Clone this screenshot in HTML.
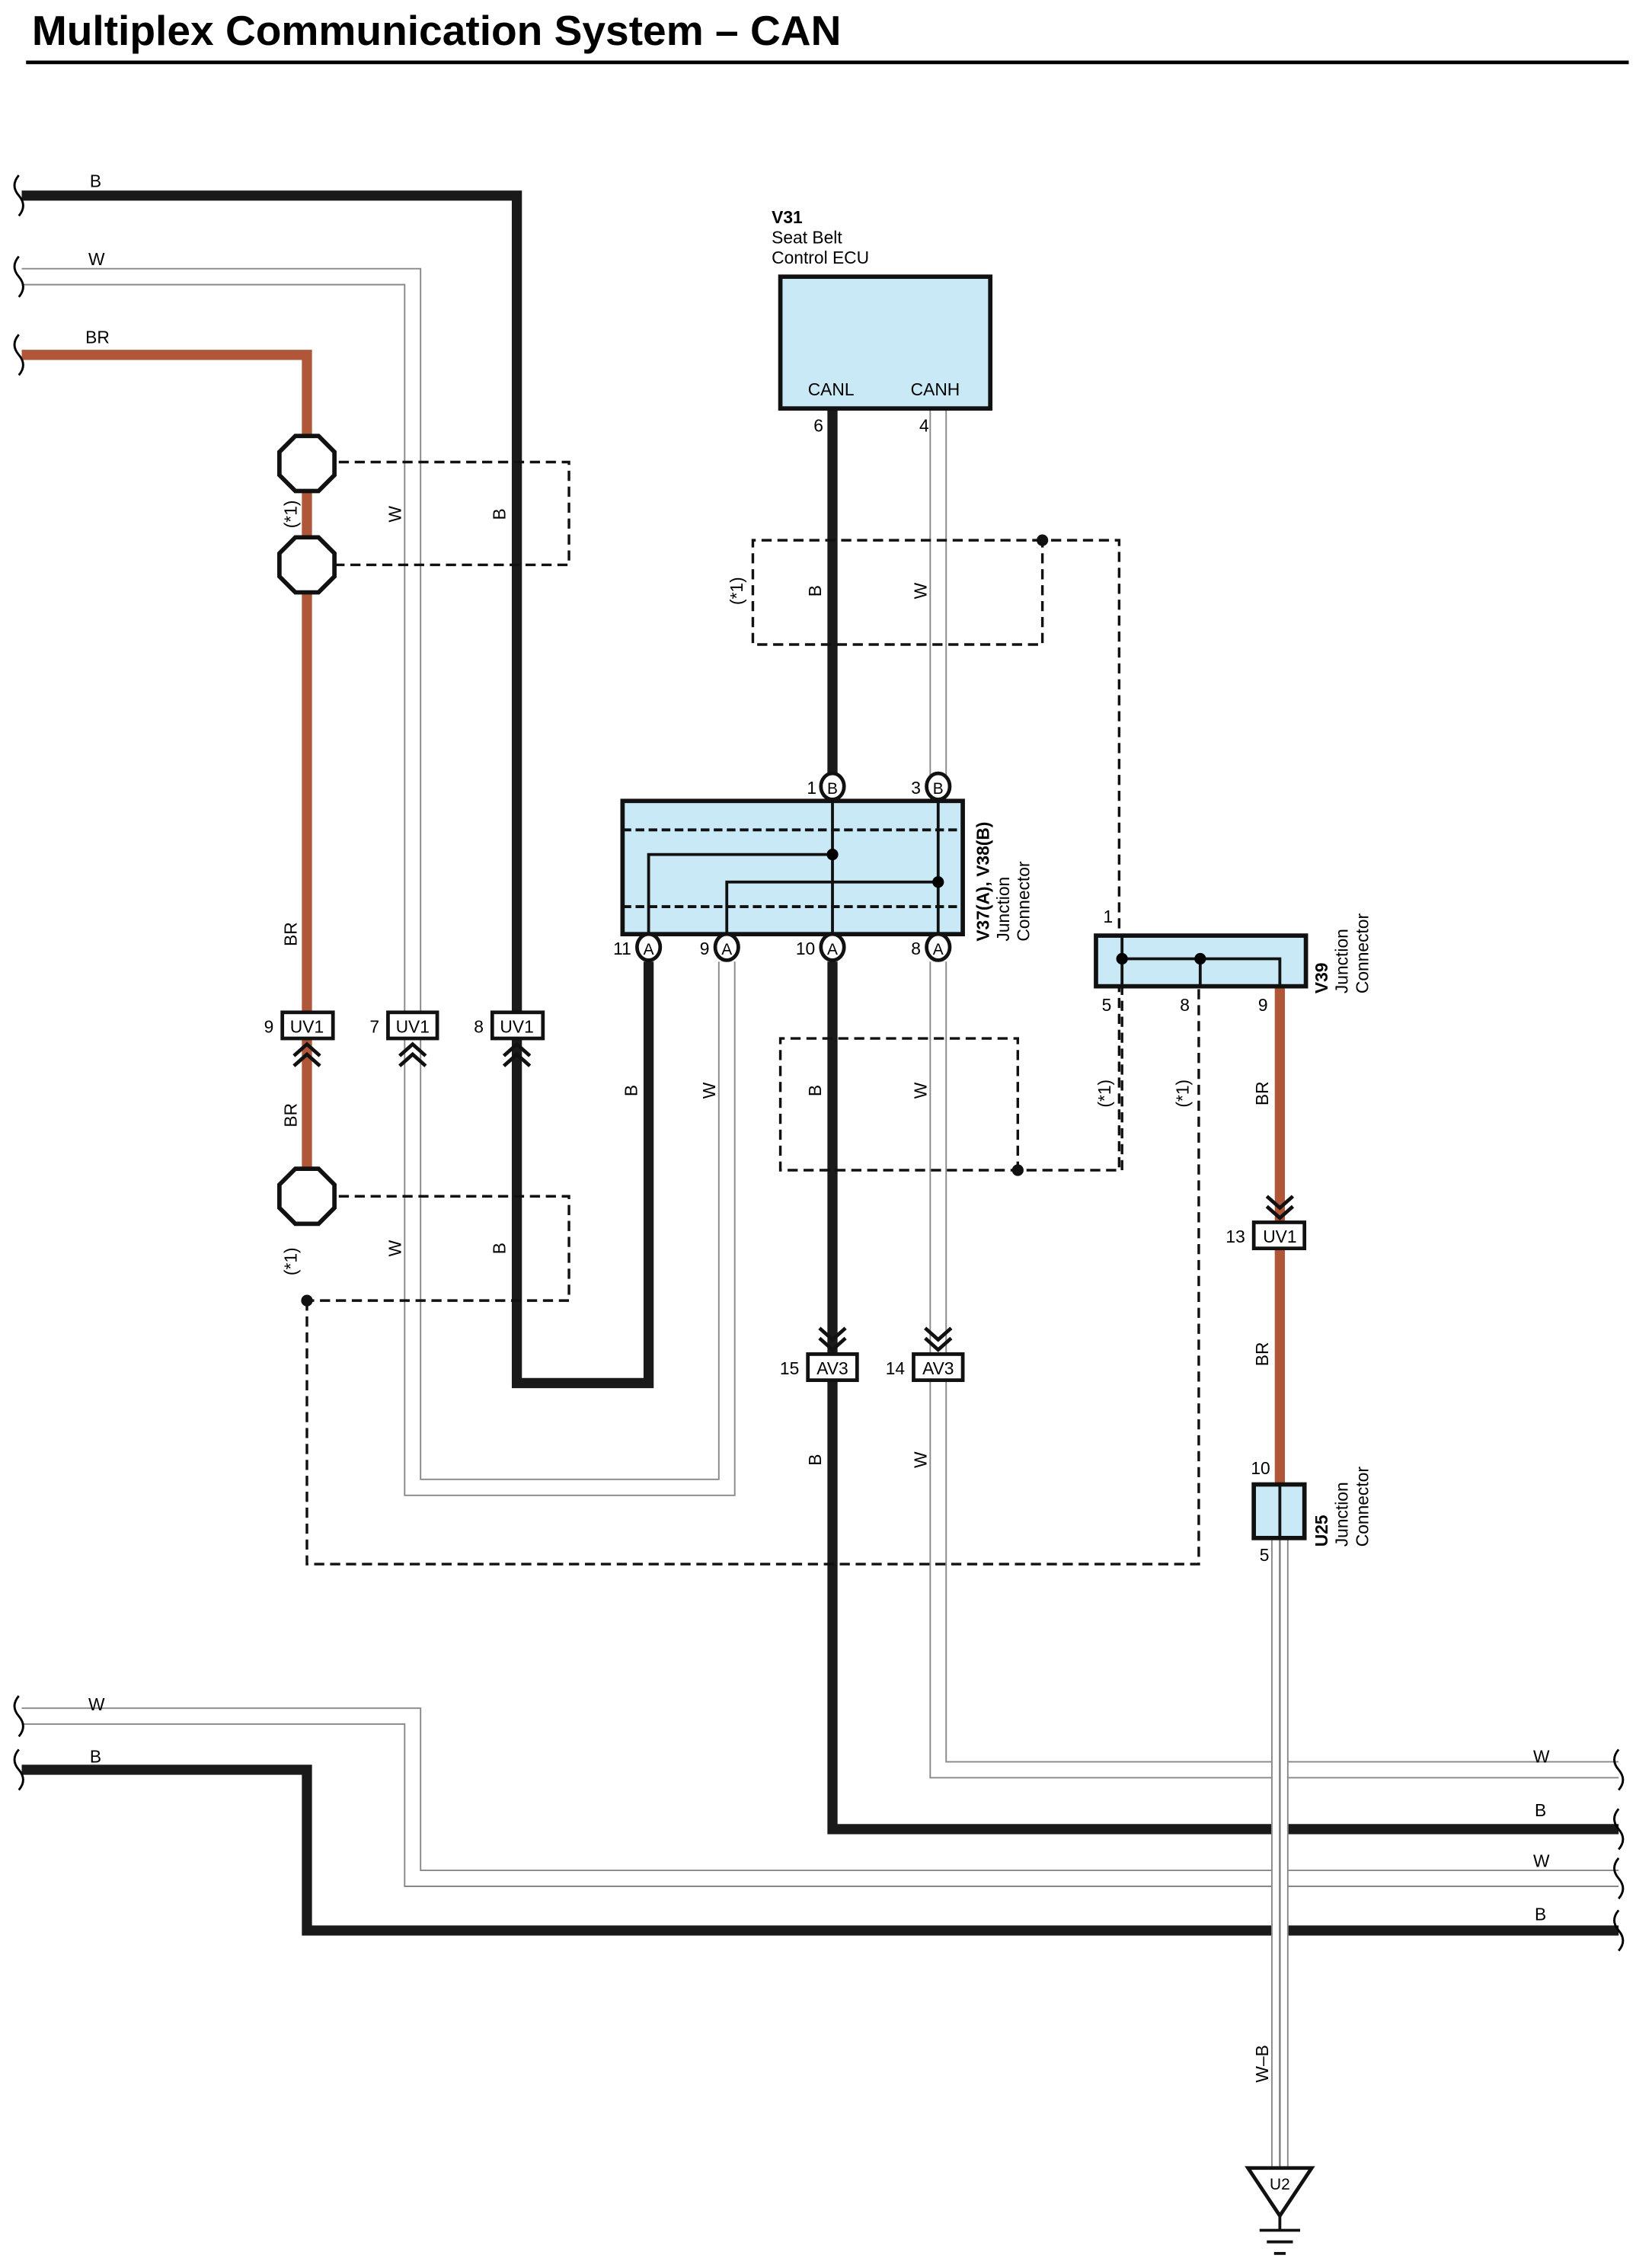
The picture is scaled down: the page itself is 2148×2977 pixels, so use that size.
<!DOCTYPE html>
<html><head><meta charset="utf-8"><style>html,body{margin:0;padding:0;background:#fff}svg{display:block}</style></head><body>
<svg width="2148" height="2977" viewBox="0 0 1130 1566" xmlns="http://www.w3.org/2000/svg" font-family="Liberation Sans, sans-serif">
<rect width="1130" height="1566" fill="#fff"/>
<text x="22" y="31" font-size="29" font-weight="bold">Multiplex Communication System – CAN</text>
<line x1="18" y1="43" x2="1125" y2="43" stroke="#000" stroke-width="2.5"/>
<defs>
<g id="wv"><path d="M0,-14 q-6,7 0,14 q6,7 0,14" fill="none" stroke="#000" stroke-width="1.5"/></g>
</defs>
<g fill="none" stroke-linejoin="miter">
<g stroke="#888" stroke-width="12">
<path d="M15,191 H285 V1027 H502 V664"/>
<path d="M648,282 V535"/>
<path d="M648,664 V935 M648,953 V1222 H1118"/>
<path d="M15,1185 H285 V1297 H1118"/>
</g>
<g stroke="#fff" stroke-width="10">
<path d="M15,191 H285 V1027 H502 V664"/>
<path d="M648,282 V535"/>
<path d="M648,664 V935 M648,953 V1222 H1118"/>
<path d="M15,1185 H285 V1297 H1118"/>
</g>
<g stroke="#1a1a1a" stroke-width="7">
<path d="M15,135 H357 V955 H448 V664"/>
<path d="M575,282 V535"/>
<path d="M575,664 V935 M575,953 V1263 H1118"/>
<path d="M15,1222 H212 V1333 H1118"/>
</g>
<g stroke="#b0573a" stroke-width="7">
<path d="M15,245 H212 V826"/>
<path d="M884,681 V1025"/>
</g>
<path d="M884,1062 V1497" stroke="#888" stroke-width="12"/>
<path d="M884,1062 V1497" stroke="#fff" stroke-width="10"/>
<line x1="884" y1="1062" x2="884" y2="1497" stroke="#777" stroke-width="1.2"/>
<g stroke="#111" stroke-width="1.8" stroke-dasharray="7,4">
<path d="M212,319 H393 V390 H212"/>
<path d="M212,826 H393 V898 H212"/>
<path d="M212,898 V1080 H828 V662"/>
<path d="M720,373 H520 V445 H720 V373 H773 V808 H539 V717 H703 V808"/>
<path d="M775,808 V646"/>
</g>
</g>
<g fill="#111"><circle cx="212" cy="898" r="4"/><circle cx="720" cy="373" r="4"/><circle cx="703" cy="808" r="4"/></g>
<g fill="#fff" stroke="#111" stroke-width="3">
<polygon points="204,301 220,301 231,312 231,328 220,339 204,339 193,328 193,312"/>
<polygon points="204,371 220,371 231,382 231,398 220,409 204,409 193,398 193,382"/>
<polygon points="204,807 220,807 231,818 231,834 220,845 204,845 193,834 193,818"/>
</g>
<g><use href="#wv" x="13" y="135"/><use href="#wv" x="13" y="191"/><use href="#wv" x="13" y="245"/><use href="#wv" x="13" y="1185"/><use href="#wv" x="13" y="1222"/>
<use href="#wv" x="1118" y="1222"/><use href="#wv" x="1118" y="1263"/><use href="#wv" x="1118" y="1297"/><use href="#wv" x="1118" y="1333"/></g>
<rect x="539" y="191" width="145" height="91" fill="#c9e9f7" stroke="#111" stroke-width="3"/>
<g font-size="12"><text x="558" y="273">CANL</text><text x="629" y="273">CANH</text>
<text x="533" y="154" font-weight="bold">V31</text><text x="533" y="168">Seat Belt</text><text x="533" y="182">Control ECU</text>
<text x="562" y="298">6</text><text x="635" y="298">4</text></g>
<rect x="430" y="553" width="235" height="92" fill="#c9e9f7" stroke="#111" stroke-width="3"/>
<g stroke="#111" stroke-width="2" fill="none">
<path d="M430,573 H665 M430,626 H665" stroke-dasharray="6,3"/>
<path d="M575,553 V645 M648,553 V645 M448,645 V590 H575 M502,645 V609 H648"/>
</g>
<circle cx="575" cy="590" r="4"/><circle cx="648" cy="609" r="4"/>
<g fill="#fff" stroke="#111" stroke-width="2.5">
<ellipse cx="575" cy="543" rx="8" ry="9"/><ellipse cx="648" cy="543" rx="8" ry="9"/>
<ellipse cx="448" cy="654" rx="8" ry="9"/><ellipse cx="502" cy="654" rx="8" ry="9"/><ellipse cx="575" cy="654" rx="8" ry="9"/><ellipse cx="648" cy="654" rx="8" ry="9"/>
</g>
<g font-size="11" text-anchor="middle"><text x="575" y="548">B</text><text x="648" y="548">B</text><text x="448" y="659">A</text><text x="502" y="659">A</text><text x="575" y="659">A</text><text x="648" y="659">A</text></g>
<g font-size="12" text-anchor="end"><text x="564" y="548">1</text><text x="636" y="548">3</text><text x="436" y="659">11</text><text x="490" y="659">9</text><text x="563" y="659">10</text><text x="636" y="659">8</text></g>
<g font-size="12" transform="translate(683,650) rotate(-90)"><text x="0" y="0" font-weight="bold">V37(A), V38(B)</text><text x="0" y="14">Junction</text><text x="0" y="28">Connector</text></g>
<rect x="757" y="646" width="145" height="35" fill="#c9e9f7" stroke="#111" stroke-width="3"/>
<path d="M775,646 V681 M775,662 H884 V681 M829,662 V681" stroke="#111" stroke-width="2" fill="none"/>
<circle cx="775" cy="662" r="4"/><circle cx="829" cy="662" r="4"/>
<g font-size="12"><text x="762" y="637">1</text><text x="761" y="698">5</text><text x="815" y="698">8</text><text x="869" y="698">9</text></g>
<g font-size="12" transform="translate(917,686) rotate(-90)"><text x="0" y="0" font-weight="bold">V39</text><text x="0" y="14" >Junction</text><text x="0" y="28">Connector</text></g>
<rect x="866" y="1025" width="35" height="37" fill="#c9e9f7" stroke="#111" stroke-width="3"/>
<line x1="884" y1="1025" x2="884" y2="1062" stroke="#111" stroke-width="2"/>
<g font-size="12"><text x="864" y="1018">10</text><text x="870" y="1078">5</text></g>
<g font-size="12" transform="translate(917,1068) rotate(-90)"><text x="0" y="0" font-weight="bold">U25</text><text x="0" y="14">Junction</text><text x="0" y="28">Connector</text></g>
<g fill="#fff" stroke="#111" stroke-width="2.5">
<rect x="195" y="699" width="35" height="18"/><rect x="268" y="699" width="34" height="18"/><rect x="340" y="699" width="35" height="18"/>
<rect x="558" y="935" width="34" height="18"/><rect x="631" y="935" width="34" height="18"/><rect x="866" y="844" width="35" height="18"/>
</g>
<g font-size="12" text-anchor="middle"><text x="212" y="713">UV1</text><text x="285" y="713">UV1</text><text x="357" y="713">UV1</text>
<text x="575" y="949">AV3</text><text x="648" y="949">AV3</text><text x="884" y="858">UV1</text></g>
<g font-size="12" text-anchor="end"><text x="189" y="713">9</text><text x="262" y="713">7</text><text x="334" y="713">8</text><text x="552" y="949">15</text><text x="625" y="949">14</text><text x="860" y="858">13</text></g>
<g fill="none" stroke="#111" stroke-width="2.5">
<path d="M203,729 L212,721 L221,729 M203,736 L212,728 L221,736"/>
<path d="M276,729 L285,721 L294,729 M276,736 L285,728 L294,736"/>
<path d="M348,729 L357,721 L366,729 M348,736 L357,728 L366,736"/>
<path d="M566,917 L575,925 L584,917 M566,924 L575,932 L584,924"/>
<path d="M639,917 L648,925 L657,917 M639,924 L648,932 L657,924"/>
<path d="M875,826 L884,834 L893,826 M875,833 L884,841 L893,833"/>
</g>
<polygon points="862,1497 906,1497 884,1530" fill="#fff" stroke="#111" stroke-width="2.5"/>
<text x="884" y="1512" font-size="11" text-anchor="middle">U2</text>
<g stroke="#111" stroke-width="2"><line x1="884" y1="1530" x2="884" y2="1540"/><line x1="870" y1="1540" x2="898" y2="1540"/><line x1="875" y1="1548" x2="893" y2="1548"/><line x1="880" y1="1556" x2="888" y2="1556"/></g>
<g font-size="12"><text x="62" y="129">B</text><text x="61" y="183">W</text><text x="59" y="237">BR</text>
<text x="61" y="1181">W</text><text x="62" y="1217">B</text>
<text x="1059" y="1217">W</text><text x="1060" y="1254">B</text><text x="1059" y="1289">W</text><text x="1060" y="1326">B</text></g>
<g font-size="12" text-anchor="middle">
<text transform="translate(205,355) rotate(-90)">(*1)</text><text transform="translate(205,871) rotate(-90)">(*1)</text>
<text transform="translate(513,408) rotate(-90)">(*1)</text><text transform="translate(767,755) rotate(-90)">(*1)</text><text transform="translate(821,755) rotate(-90)">(*1)</text>
<text transform="translate(277,355) rotate(-90)">W</text><text transform="translate(349,355) rotate(-90)">B</text>
<text transform="translate(277,862) rotate(-90)">W</text><text transform="translate(349,862) rotate(-90)">B</text>
<text transform="translate(205,645) rotate(-90)">BR</text><text transform="translate(205,770) rotate(-90)">BR</text>
<text transform="translate(567,408) rotate(-90)">B</text><text transform="translate(640,408) rotate(-90)">W</text>
<text transform="translate(440,753) rotate(-90)">B</text><text transform="translate(494,753) rotate(-90)">W</text>
<text transform="translate(567,753) rotate(-90)">B</text><text transform="translate(640,753) rotate(-90)">W</text>
<text transform="translate(567,1008) rotate(-90)">B</text><text transform="translate(640,1008) rotate(-90)">W</text>
<text transform="translate(876,755) rotate(-90)">BR</text><text transform="translate(876,935) rotate(-90)">BR</text>
<text transform="translate(876,1425) rotate(-90)">W–B</text>
</g>
</svg>
</body></html>
